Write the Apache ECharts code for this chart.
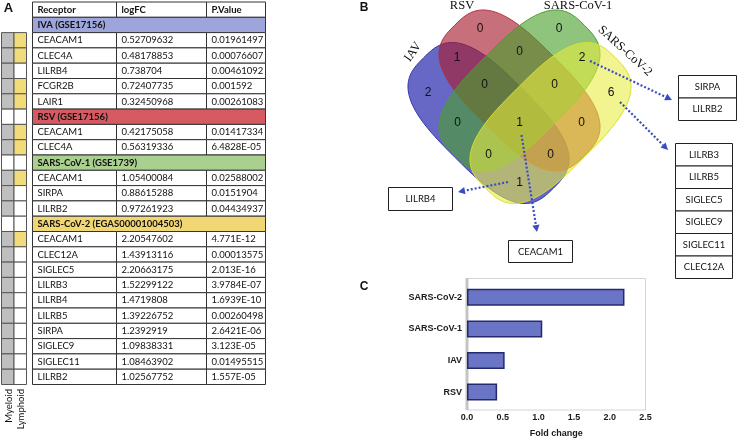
<!DOCTYPE html>
<html><head><meta charset="utf-8">
<script src="https://cdn.jsdelivr.net/npm/echarts@6/dist/echarts.min.js"></script>
<style>html,body{margin:0;padding:0;background:#fff}#c{width:738px;height:439px}</style>
</head><body><div id="c"></div>
<script>
// ================= DATA =================
const tableHeader = ['Receptor', 'logFC', 'P.Value'];
const sectionNames = ['IVA (GSE17156)', 'RSV (GSE17156)', 'SARS-CoV-1 (GSE1739)', 'SARS-CoV-2 (EGAS00001004503)'];

const iavReceptors = ['CEACAM1', 'CLEC4A', 'LILRB4', 'FCGR2B', 'LAIR1'];
const iavLogFC = [0.52709632, 0.48178853, 0.738704, 0.72407735, 0.32450968];
const iavPValue = ['0.01961497', '0.00076607', '0.00461092', '0.001592', '0.00261083'];
const iavLymphoid = [1, 1, 0, 1, 1];

const rsvReceptors = ['CEACAM1', 'CLEC4A'];
const rsvLogFC = [0.42175058, 0.56319336];
const rsvPValue = ['0.01417334', '6.4828E-05'];
const rsvLymphoid = [1, 1];

const sars1Receptors = ['CEACAM1', 'SIRPA', 'LILRB2'];
const sars1LogFC = [1.05400084, 0.88615288, 0.97261923];
const sars1PValue = ['0.02588002', '0.0151904', '0.04434937'];
const sars1Lymphoid = [1, 0, 0];

const sars2Receptors = ['CEACAM1', 'CLEC12A', 'SIGLEC5', 'LILRB3', 'LILRB4', 'LILRB5', 'SIRPA', 'SIGLEC9', 'SIGLEC11', 'LILRB2'];
const sars2LogFC = [2.20547602, 1.43913116, 2.20663175, 1.52299122, 1.4719808, 1.39226752, 1.2392919, 1.09838331, 1.08463902, 1.02567752];
const sars2PValue = ['4.771E-12', '0.00013575', '2.013E-16', '3.9784E-07', '1.6939E-10', '0.00260498', '2.6421E-06', '3.123E-05', '0.01495515', '1.557E-05'];
const sars2Lymphoid = [1, 0, 0, 0, 0, 0, 0, 0, 0, 0];

const vennSetNames = ['IAV', 'RSV', 'SARS-CoV-1', 'SARS-CoV-2'];
// membership pattern (IAV, RSV, SARS-CoV-1, SARS-CoV-2)
const vennRegions = ['1000', '0100', '0010', '0001', '1100', '0110', '0011', '1110', '0111', '1010', '1111', '0101', '1011', '1101', '1001'];
const sars1Sars2Genes = ['SIRPA', 'LILRB2'];
const sars2OnlyGenes = ['LILRB3', 'LILRB5', 'SIGLEC5', 'SIGLEC9', 'SIGLEC11', 'CLEC12A'];
const iavSars2Genes = ['LILRB4'];
const allFourGenes = ['CEACAM1'];

const barCategories = ['RSV', 'IAV', 'SARS-CoV-1', 'SARS-CoV-2'];
const barFoldChange = [0.42175058, 0.52709632, 1.05400084, 2.20547602];
const barAxisMin = 0, barAxisMax = 2.5, barAxisInterval = 0.5;

// ================= LAYOUT / STYLE =================
const sectionColors = ['#9ea5da', '#d65a61', '#a9d08e', '#f1d674'];
const tableFont = '9.5px Lato';
const tableBold = 'bold 9.5px Lato';
const TCOL = [32.5, 116.5, 206.5, 265.5];
const SQ = [1.5, 14, 26.5];
const lineC = '#333';

// Venn layout (page-pixel units on a hidden cartesian system): rounded superellipse shapes
const shapeCenters = [[488.5, 123], [519.5, 90.5], [519.5, 90.5], [550.5, 123]];
const shapeA = 92, shapeB = 48, shapeExp = 3;
const shapeRot = [45, 45, -45, -45];
const shapeFill = ['rgba(38,40,172,0.70)', 'rgba(168,30,48,0.64)', 'rgba(72,160,44,0.62)', 'rgba(232,238,62,0.58)'];
const shapeStroke = ['#3135ad', '#b0303e', '#4f9a34', '#d9df2c'];
const vennLabelPos = {
  '1000': [428, 93], '0100': [480, 29], '0010': [559, 29], '0001': [611, 93],
  '1100': [457, 58], '0110': [519.5, 52], '0011': [582, 58],
  '1110': [484.5, 84.5], '0111': [554.5, 84.5],
  '1010': [457.5, 122.5], '1111': [519.5, 122.5], '0101': [581.5, 122.5],
  '1011': [488.5, 155], '1101': [550.5, 155], '1001': [519.5, 183]
};

// ================= BUILD TABLE ROWS =================
const groups = [
  [iavReceptors, iavLogFC, iavPValue, iavLymphoid],
  [rsvReceptors, rsvLogFC, rsvPValue, rsvLymphoid],
  [sars1Receptors, sars1LogFC, sars1PValue, sars1Lymphoid],
  [sars2Receptors, sars2LogFC, sars2PValue, sars2Lymphoid]
];
const tableRows = [{ type: 'header' }];
groups.forEach((g, s) => {
  tableRows.push({ type: 'section', s });
  g[0].forEach((r, k) => tableRows.push({ type: 'data', name: r, fc: String(g[1][k]), p: g[2][k], lym: g[3][k] }));
});

function renderTableRow(params, api) {
  const i = api.value(1);
  const row = tableRows[i];
  const yc = api.coord([0, i])[1];
  const h = api.size([0, 1])[1];
  const y0 = yc - h / 2;
  const X = v => api.coord([v, i])[0];
  const ch = [];
  if (row.type === 'section') {
    ch.push({ type: 'rect', shape: { x: X(TCOL[0]), y: y0, width: X(TCOL[3]) - X(TCOL[0]), height: h }, style: { fill: sectionColors[row.s], stroke: lineC, lineWidth: 1 } });
    ch.push({ type: 'text', style: { x: X(TCOL[0]) + 5, y: yc, text: sectionNames[row.s], font: tableBold, fill: '#111', align: 'left', verticalAlign: 'middle' } });
  } else {
    const texts = row.type === 'header' ? tableHeader : [row.name, row.fc, row.p];
    for (let c = 0; c < 3; c++) {
      ch.push({ type: 'rect', shape: { x: X(TCOL[c]), y: y0, width: X(TCOL[c + 1]) - X(TCOL[c]), height: h }, style: { fill: '#fff', stroke: lineC, lineWidth: 1 } });
      ch.push({ type: 'text', style: { x: X(TCOL[c]) + 5, y: yc, text: texts[c], font: row.type === 'header' ? tableBold : tableFont, fill: '#111', align: 'left', verticalAlign: 'middle' } });
    }
  }
  if (i >= 2) {
    const myeloid = row.type === 'data';
    const lym = row.type === 'data' && row.lym === 1;
    ch.push({ type: 'rect', shape: { x: X(SQ[0]), y: y0, width: X(SQ[1]) - X(SQ[0]), height: h }, style: { fill: myeloid ? '#bfbfbf' : '#fff', stroke: '#555', lineWidth: 1 } });
    ch.push({ type: 'rect', shape: { x: X(SQ[1]), y: y0, width: X(SQ[2]) - X(SQ[1]), height: h }, style: { fill: lym ? '#f2dc7a' : '#fff', stroke: '#555', lineWidth: 1 } });
  }
  return { type: 'group', children: ch };
}

// ================= VENN =================
const sets = [iavReceptors, rsvReceptors, sars1Receptors, sars2Receptors];
const allGenes = Array.from(new Set([].concat(...sets)));
function regionCount(key) {
  return allGenes.filter(g => sets.map(s => s.includes(g) ? '1' : '0').join('') === key).length;
}
const vennCounts = vennRegions.map(regionCount);

function renderShape(params, api) {
  const k = params.dataIndex;
  const cx = api.value(0), cy = api.value(1);
  const th = shapeRot[k] * Math.PI / 180;
  const ct = Math.cos(th), st = Math.sin(th);
  const e = 2 / shapeExp;
  const pts = [];
  const N = 180;
  for (let j = 0; j < N; j++) {
    const t = j / N * Math.PI * 2;
    const c = Math.cos(t), s = Math.sin(t);
    const u = shapeA * Math.sign(c) * Math.pow(Math.abs(c), e);
    const v = shapeB * Math.sign(s) * Math.pow(Math.abs(s), e);
    pts.push(api.coord([cx + u * ct - v * st, cy + u * st + v * ct]));
  }
  return { type: 'polygon', shape: { points: pts }, style: { fill: shapeFill[k], stroke: shapeStroke[k], lineWidth: 1 } };
}
function renderCount(params, api) {
  const p = api.coord([api.value(0), api.value(1)]);
  return { type: 'text', style: { x: p[0], y: p[1], text: String(api.value(2)), font: '12px "Liberation Sans"', fill: '#111', align: 'center', verticalAlign: 'middle' } };
}

// ================= ANNOTATIONS =================
const annC = '#3a4cc2';
function arrow(x1, y1, x2, y2) {
  const a = Math.atan2(y2 - y1, x2 - x1), L = 7, W = 3.6;
  const bx = x2 - L * Math.cos(a), by = y2 - L * Math.sin(a);
  return [
    { type: 'line', shape: { x1, y1, x2: bx, y2: by }, style: { stroke: annC, lineWidth: 2.2, lineDash: [2, 2] }, z: 20 },
    { type: 'polygon', shape: { points: [[x2, y2], [bx - W * Math.sin(a), by + W * Math.cos(a)], [bx + W * Math.sin(a), by - W * Math.cos(a)]] }, style: { fill: annC }, z: 20 }
  ];
}
function geneBox(x, y, w, rh, genes) {
  const out = [];
  genes.forEach((g, k) => {
    out.push({ type: 'rect', shape: { x, y: y + k * rh, width: w, height: rh }, style: { fill: '#fff', stroke: '#222', lineWidth: 1 }, z: 20 });
    out.push({ type: 'text', x: x + w / 2, y: y + k * rh + rh / 2, style: { text: g, font: tableFont, fill: '#111', align: 'center', verticalAlign: 'middle' }, z: 21 });
  });
  return out;
}
const serif = '12.5px "Liberation Serif"';
const graphics = [
  { type: 'text', x: 8.5, y: 8, style: { text: 'A', font: 'bold 13px "Liberation Sans"', fill: '#111', align: 'center', verticalAlign: 'middle' } },
  { type: 'text', x: 364, y: 8, style: { text: 'B', font: 'bold 12px "Liberation Sans"', fill: '#111', align: 'center', verticalAlign: 'middle' } },
  { type: 'text', x: 364, y: 287, style: { text: 'C', font: 'bold 12px "Liberation Sans"', fill: '#111', align: 'center', verticalAlign: 'middle' } },
  { type: 'text', x: 8.5, y: 389, rotation: Math.PI / 2, style: { text: 'Myeloid', font: tableFont, fill: '#111', align: 'right', verticalAlign: 'middle' } },
  { type: 'text', x: 21, y: 389, rotation: Math.PI / 2, style: { text: 'Lymphoid', font: tableFont, fill: '#111', align: 'right', verticalAlign: 'middle' } },
  { type: 'text', x: 413, y: 52, rotation: 0.96, style: { text: vennSetNames[0], font: serif, fill: '#111', align: 'center', verticalAlign: 'middle' } },
  { type: 'text', x: 462, y: 6, style: { text: vennSetNames[1], font: serif, fill: '#111', align: 'center', verticalAlign: 'middle' } },
  { type: 'text', x: 578, y: 6, style: { text: vennSetNames[2], font: serif, fill: '#111', align: 'center', verticalAlign: 'middle' } },
  { type: 'text', x: 625, y: 51, rotation: -0.74, style: { text: vennSetNames[3], font: serif, fill: '#111', align: 'center', verticalAlign: 'middle' } },
  // bar chart frame
  { type: 'rect', shape: { x: 467.5, y: 278.5, width: 178, height: 131.5 }, style: { fill: 'none', stroke: '#d4d4d4', lineWidth: 1 } },
  { type: 'line', shape: { x1: 467, y1: 278, x2: 467, y2: 410 }, style: { stroke: '#c4c4c4', lineWidth: 3 } }
].concat(
  arrow(590, 61, 672, 100),
  arrow(620, 102, 668, 150),
  arrow(508, 182, 458, 192),
  arrow(521.5, 135, 537, 232),
  geneBox(678.5, 75.5, 58, 22.5, sars1Sars2Genes),
  geneBox(675.5, 143.5, 57, 22.5, sars2OnlyGenes),
  geneBox(388.5, 187.5, 64, 23, iavSars2Genes),
  geneBox(508.5, 240.5, 64, 22, allFourGenes)
);

// ================= OPTION =================
const chart = echarts.init(document.getElementById('c'));
const option = {
  animation: false,
  backgroundColor: '#fff',
  grid: [
    { left: 0, top: 2, width: 266, height: 382.5 },
    { left: 0, top: 0, width: 738, height: 439 },
    { left: 467, top: 281.5, width: 178.5, height: 126.4 }
  ],
  xAxis: [
    { gridIndex: 0, type: 'value', min: 0, max: 266, show: false },
    { gridIndex: 1, type: 'value', min: 0, max: 738, show: false },
    {
      gridIndex: 2, type: 'value', min: barAxisMin, max: barAxisMax, interval: barAxisInterval,
      axisLine: { show: false }, axisTick: { show: false }, splitLine: { show: false },
      axisLabel: { formatter: v => v.toFixed(1), fontWeight: 'bold', fontSize: 9, fontFamily: 'Liberation Sans', color: '#1a1a1a', margin: 5 },
      name: 'Fold change', nameLocation: 'middle', nameGap: 21,
      nameTextStyle: { fontWeight: 'bold', fontSize: 9, fontFamily: 'Liberation Sans', color: '#1a1a1a' }
    }
  ],
  yAxis: [
    { gridIndex: 0, type: 'category', data: tableRows.map((r, i) => String(i)), inverse: true, show: false },
    { gridIndex: 1, type: 'value', min: 0, max: 439, inverse: true, show: false },
    {
      gridIndex: 2, type: 'category', data: barCategories,
      axisLine: { show: false }, axisTick: { show: false },
      axisLabel: { fontWeight: 'bold', fontSize: 9, fontFamily: 'Liberation Sans', color: '#1a1a1a', margin: 5 }
    }
  ],
  series: [
    { type: 'custom', xAxisIndex: 0, yAxisIndex: 0, data: tableRows.map((r, i) => [0, i]), renderItem: renderTableRow, silent: true },
    { type: 'custom', xAxisIndex: 1, yAxisIndex: 1, data: shapeCenters, renderItem: renderShape, silent: true, z: 3 },
    { type: 'custom', xAxisIndex: 1, yAxisIndex: 1, data: vennRegions.map((k, i) => [vennLabelPos[k][0], vennLabelPos[k][1], vennCounts[i]]), renderItem: renderCount, silent: true, z: 5 },
    {
      type: 'bar', xAxisIndex: 2, yAxisIndex: 2, data: barFoldChange, barWidth: 17,
      itemStyle: { color: '#6b75c5', borderColor: '#252a6e', borderWidth: 1.5 }, silent: true
    }
  ],
  graphic: { elements: graphics }
};
chart.setOption(option);
</script>
</body></html>
